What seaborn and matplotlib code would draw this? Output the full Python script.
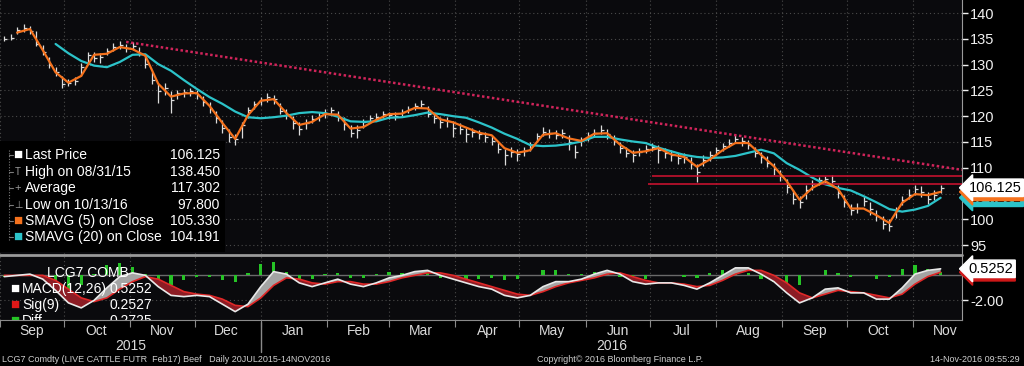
"""
LCG7 live cattle futures - Bloomberg style bar chart with SMAVG lines and MACD panel
"""

import numpy as np
import pandas as pd
import matplotlib
matplotlib.use("Agg")
import matplotlib.pyplot as plt
import matplotlib.dates as mdates
from matplotlib.patches import Rectangle
from matplotlib.lines import Line2D
import seaborn as sns

# price bars, read every third day from 03 Sep 2015 to 14 Nov 2016
bar_start = "2015-09-03"
bar_end = "2016-11-14"

close = [135.0, 135.2, 136.8, 137.0, 136.6, 134.0, 132.4, 130.0, 128.6, 126.2,
         126.4, 126.8, 129.6, 131.8, 131.2, 131.4, 132.6, 133.4, 133.8, 133.2,
         133.6, 132.2, 130.2, 127.0, 124.8, 125.4, 123.2, 124.4, 124.6, 124.8,
         124.2, 122.8, 121.6, 119.6, 117.8, 116.0, 115.6, 118.2, 121.2, 122.4,
         123.2, 123.8, 123.4, 121.0, 120.2, 118.6, 117.6, 118.6, 119.4, 120.0,
         120.6, 121.2, 119.8, 118.4, 116.8, 117.4, 118.8, 119.6, 119.8, 120.4,
         120.2, 120.0, 120.8, 121.4, 122.0, 122.4, 120.4, 119.6, 118.8, 119.0,
         117.8, 117.6, 116.6, 117.0, 116.6, 116.0, 115.2, 113.6, 112.4, 113.0,
         112.6, 113.2, 114.4, 116.2, 117.0, 116.8, 116.4, 116.8, 115.0, 113.0,
         115.4, 116.2, 116.8, 117.4, 116.6, 115.2, 113.8, 112.8, 112.4, 113.0,
         113.6, 114.0, 113.4, 112.8, 112.4, 111.8, 112.0, 110.8, 109.2, 111.6,
         112.4, 113.4, 114.2, 114.8, 115.6, 115.2, 114.4, 112.8, 112.0, 111.0,
         109.8, 108.4, 106.2, 104.0, 103.4, 105.6, 106.8, 107.6, 107.8, 107.4,
         105.2, 103.4, 101.8, 102.2, 103.6, 102.0, 100.6, 99.2, 98.8, 101.6,
         103.8, 104.8, 105.8, 105.4, 104.0, 104.8, 106.125]

high = [135.6, 136.0, 137.3, 137.8, 137.4, 136.5, 133.8, 131.5, 129.6, 127.8,
        127.2, 127.6, 130.4, 132.5, 132.4, 132.2, 133.2, 134.2, 134.5, 134.0,
        134.4, 133.4, 131.6, 128.6, 126.2, 126.4, 124.8, 125.0, 125.2, 125.4,
        125.0, 124.0, 122.8, 121.0, 119.2, 117.6, 116.6, 118.8, 121.8, 123.0,
        123.8, 124.4, 124.2, 122.6, 121.4, 120.0, 118.8, 119.4, 120.2, 120.8,
        121.4, 121.8, 121.0, 119.8, 118.2, 118.2, 119.4, 120.2, 120.6, 121.0,
        120.8, 120.8, 121.4, 122.0, 122.6, 123.1, 122.0, 120.6, 119.8, 119.8,
        119.0, 118.6, 117.8, 117.8, 117.4, 117.0, 116.2, 115.0, 113.6, 114.0,
        113.6, 114.0, 115.0, 116.8, 117.9, 117.6, 117.4, 117.6, 116.4, 114.4,
        116.0, 117.0, 117.6, 118.3, 117.6, 116.4, 115.0, 114.0, 113.4, 113.8,
        114.4, 114.8, 114.4, 113.8, 113.4, 112.8, 112.8, 112.0, 110.8, 112.4,
        113.2, 114.0, 114.8, 115.6, 116.4, 116.0, 115.4, 114.0, 113.0, 112.2,
        111.0, 109.6, 107.8, 105.6, 104.6, 106.6, 107.6, 108.2, 108.4, 108.6,
        106.6, 104.8, 103.0, 103.2, 104.6, 103.4, 101.8, 100.6, 100.0, 102.4,
        104.6, 105.8, 106.6, 106.4, 105.4, 105.6, 106.6]

low = [134.6, 134.8, 136.0, 136.4, 136.0, 133.6, 131.8, 129.4, 127.8, 125.5,
       125.8, 126.0, 127.8, 130.5, 130.6, 130.4, 131.8, 132.6, 133.0, 132.5,
       132.8, 131.6, 129.4, 126.2, 122.6, 124.2, 120.6, 123.4, 123.8, 124.0,
       123.4, 122.0, 120.6, 118.6, 116.8, 115.0, 114.4, 115.8, 119.6, 121.4,
       122.2, 122.8, 122.4, 120.4, 119.4, 117.6, 116.4, 117.6, 118.6, 119.0,
       119.6, 120.2, 119.0, 117.4, 116.0, 115.8, 117.8, 118.8, 119.0, 119.6,
       119.4, 119.2, 120.0, 120.6, 121.2, 121.6, 119.8, 118.6, 117.8, 118.0,
       116.0, 116.6, 115.0, 116.0, 115.6, 115.0, 114.4, 112.8, 110.6, 112.0,
       111.4, 112.2, 113.2, 115.0, 116.2, 115.8, 115.6, 115.8, 113.4, 111.9,
       114.2, 115.2, 116.0, 116.6, 115.6, 114.4, 112.8, 112.0, 111.1, 112.2,
       112.8, 113.2, 110.9, 111.8, 111.4, 110.8, 111.0, 109.8, 107.2, 110.4,
       111.4, 112.4, 113.2, 114.0, 114.8, 114.2, 113.6, 112.0, 111.0, 110.2,
       108.6, 107.4, 105.2, 103.0, 102.2, 104.0, 105.6, 106.6, 107.0, 106.4,
       104.2, 102.4, 100.9, 101.2, 102.6, 100.8, 99.6, 98.2, 97.8, 100.2,
       102.8, 104.0, 104.8, 104.4, 103.0, 103.8, 105.2]

# moving averages and MACD, read every sixth day over the same span
nan = np.nan
sma5 = [nan, 136.2, 136.9, 132.8, 128.5, 126.5, 127.8, 131.9, 132.1, 133.4,
        133.0, 131.7, 126.3, 123.8, 124.4, 124.5, 122.0, 118.7, 115.6, 120.2,
        123.0, 123.3, 120.6, 118.3, 118.9, 120.4, 120.3, 117.6, 117.9, 119.3,
        120.4, 120.5, 121.6, 121.5, 119.4, 118.8, 117.8, 116.8, 116.3, 113.8,
        112.9, 113.4, 116.4, 116.7, 115.7, 115.2, 116.6, 116.7, 114.5, 112.9,
        113.2, 113.8, 112.6, 112.1, 110.2, 111.6, 113.4, 114.8, 114.8, 112.5,
        110.3, 107.4, 103.8, 106.1, 107.4, 105.9, 102.1, 102.1, 100.8, 99.3,
        103.2, 104.9, 104.7, 105.33]

sma20 = [nan, nan, nan, nan, 134.0, 132.2, 130.7, 129.8, 129.5, 130.5,
         131.9, 132.0, 130.1, 128.8, 127.0, 125.3, 123.7, 122.4, 120.9, 119.8,
         119.6, 119.8, 120.1, 120.6, 120.8, 120.6, 119.9, 119.0, 118.9, 119.0,
         119.7, 119.8, 120.2, 120.7, 120.4, 120.0, 119.7, 118.8, 117.8, 116.6,
         115.6, 114.4, 114.2, 114.3, 114.6, 115.1, 116.0, 116.0, 115.5, 115.1,
         114.8, 113.9, 113.2, 112.5, 112.1, 111.9, 112.0, 112.3, 112.9, 113.5,
         112.8, 110.9, 109.6, 108.1, 106.8, 106.1, 105.6, 104.5, 103.3, 102.0,
         101.5, 101.9, 102.6, 104.19]

macd = [-0.1, 0.0, 0.1, -0.3, -1.2, -2.2, -2.6, -2.0, -1.0, -0.1,
        0.2, 0.0, -0.9, -1.6, -1.7, -1.6, -1.7, -2.3, -2.9, -2.3,
        -0.9, 0.3, 0.1, -0.6, -0.9, -0.6, -0.3, -0.7, -0.9, -0.6,
        -0.2, 0.0, 0.3, 0.4, 0.0, -0.3, -0.6, -0.9, -1.1, -1.6,
        -1.8, -1.6, -0.9, -0.5, -0.5, -0.3, 0.1, 0.4, 0.1, -0.5,
        -0.7, -0.6, -0.6, -0.8, -1.1, -0.6, 0.0, 0.6, 0.6, 0.1,
        -0.5, -1.4, -2.2, -1.8, -1.1, -1.0, -1.4, -1.4, -1.9, -1.9,
        -1.0, 0.1, 0.4, 0.5252]

signal = [0.0, 0.0, 0.0, 0.0, -0.4, -1.1, -1.8, -2.1, -1.8, -1.1,
          -0.5, -0.1, -0.3, -0.8, -1.3, -1.5, -1.6, -1.9, -2.4, -2.5,
          -1.8, -0.8, -0.2, -0.3, -0.6, -0.7, -0.5, -0.5, -0.7, -0.7,
          -0.5, -0.2, 0.0, 0.2, 0.2, 0.0, -0.3, -0.6, -0.9, -1.2,
          -1.5, -1.6, -1.3, -0.9, -0.6, -0.4, -0.2, 0.1, 0.2, -0.1,
          -0.4, -0.6, -0.6, -0.7, -0.9, -0.8, -0.4, 0.1, 0.4, 0.4,
          0.0, -0.6, -1.4, -1.8, -1.5, -1.2, -1.3, -1.4, -1.6, -1.8,
          -1.5, -0.7, -0.1, 0.2527]

# trend line and the two horizontal levels
trend_dates = ["2015-10-30", "2016-11-24"]
trend_vals = [134.4, 109.6]
level_starts = ["2016-07-02", "2016-06-30"]
levels = [108.5, 106.9]

legend_marks = ["\u25a0", "T", "+", "\u22a5", "\u25a0", "\u25a0"]
legend_labels = ["Last Price", "High on 08/31/15", "Average", "Low on 10/13/16",
                 "SMAVG (5) on Close", "SMAVG (20) on Close"]
legend_values = ["106.125", "138.450", "117.302", "97.800", "105.330", "104.191"]

ORANGE = "#f5721d"
CYAN = "#2cc3c9"
GREEN = "#26c426"
RED = "#e02828"
BAR = "#dcdcdc"
GRID = "#4a4a4a"


def fx(x):
    return x / 1024


def fy(y):
    return 1 - y / 366


def main():
    sns.set_style("dark")
    plt.rcParams["font.family"] = ["Liberation Sans", "DejaVu Sans"]

    bar_dates = pd.date_range(bar_start, bar_end, freq="3D")
    line_dates = pd.date_range(bar_start, bar_end, freq="6D")
    bx = mdates.date2num(bar_dates)
    lx = mdates.date2num(line_dates)
    x0 = mdates.date2num(pd.Timestamp("2015-09-01"))
    x1 = mdates.date2num(pd.Timestamp("2016-11-24"))

    fig = plt.figure(figsize=(10.24, 3.66), dpi=100)
    fig.patch.set_facecolor("black")
    ax = fig.add_axes([0, fy(254), fx(962), 254 / 366])
    ax2 = fig.add_axes([0, fy(320), fx(962), 64 / 366])

    for a in (ax, ax2):
        a.set_facecolor("#0a0a0d")
        a.set_xlim(x0, x1)
        for s in ("left", "top"):
            a.spines[s].set_visible(False)
        a.spines["right"].set_color("#9a9a9a")
        a.spines["bottom"].set_color("#8a8a8a")
        a.xaxis.set_major_locator(mdates.MonthLocator())
        a.grid(True, axis="x", which="major", color=GRID, linestyle=(0, (1, 2.5)), lw=0.8)
        a.grid(False, axis="y")
        a.yaxis.tick_right()
    ax.spines["bottom"].set_visible(False)

    # ---- price panel ----
    ax.set_ylim(93.29, 142.52)
    ax.set_yticks(range(95, 141, 5))
    for v in range(95, 141, 5):
        ax.axhline(v, color=GRID, linestyle=(0, (1, 2.5)), lw=0.8, zorder=0)
    ax.tick_params(axis="y", right=True, colors="#f0f0f0", labelsize=10.5,
                   length=4, width=1, direction="out", pad=2)
    ax.tick_params(axis="x", which="both", bottom=False, labelbottom=False)

    ax.vlines(bx, low, high, color=BAR, lw=0.9, zorder=3)
    ax.hlines(close, bx, bx + 1.4, color=BAR, lw=0.9, zorder=3)

    sns.lineplot(x=lx, y=sma20, ax=ax, color=CYAN, lw=1.6, zorder=4)
    sns.lineplot(x=lx, y=sma5, ax=ax, color=ORANGE, lw=1.6, zorder=5)

    ax.plot(mdates.date2num(pd.to_datetime(trend_dates)), trend_vals,
            color="#d0245a", lw=1.8, linestyle=(0, (1, 1)), zorder=4)
    for start, lev in zip(level_starts, levels):
        ax.hlines(lev, mdates.date2num(pd.Timestamp(start)), x1, color="#c4122e", lw=1.2, zorder=4)

    # price tags at the right edge
    ytr = ax.get_yaxis_transform()
    tag_style = dict(transform=ytr, ha="left", va="center", fontsize=10.5, clip_on=False)
    ax.text(1.007, 104.191, "104.191", color="black", zorder=10,
            bbox=dict(boxstyle="larrow,pad=0.12", fc=CYAN, ec=CYAN), **tag_style)
    ax.text(1.007, 105.33, "105.330", color="black", zorder=11,
            bbox=dict(boxstyle="larrow,pad=0.12", fc=ORANGE, ec=ORANGE), **tag_style)
    ax.text(1.007, 106.125, "106.125", color="black", zorder=12,
            bbox=dict(boxstyle="larrow,pad=0.12", fc="white", ec="white"), **tag_style)

    # legend box
    ax.add_patch(Rectangle((0, 2 / 254), 225 / 962, 111 / 254, transform=ax.transAxes,
                           fc="black", ec="none", zorder=8))
    rows_y = [155, 172, 188, 205, 221, 237]
    mark_colors = ["white", "#9a9a9a", "#9a9a9a", "#9a9a9a", ORANGE, CYAN]
    mark_sizes = [11, 7, 8, 7, 11, 11]
    fig.add_artist(Line2D([fx(9), fx(9)], [fy(150), fy(240)], color="#7a7a7a",
                          lw=0.8, linestyle=(0, (1, 1.5))))
    for y, mk, mc, ms, lab, val in zip(rows_y, legend_marks, mark_colors, mark_sizes,
                                       legend_labels, legend_values):
        fig.add_artist(Line2D([fx(9), fx(13)], [fy(y), fy(y)], color="#7a7a7a", lw=0.8))
        fig.text(fx(18), fy(y), mk, color=mc, fontsize=ms, ha="center", va="center")
        fig.text(fx(25), fy(y), lab, color="white", fontsize=10, va="center")
        fig.text(fx(220), fy(y), val, color="white", fontsize=10, va="center", ha="right")

    # ---- MACD panel ----
    m = np.array(macd)
    s = np.array(signal)
    diff = m - s
    ax2.set_ylim(-3.57, 1.55)
    ax2.axhline(0, color="#6a6a6a", lw=1.0, zorder=1)
    ax2.axhline(-2, color=GRID, lw=0.8, linestyle=(0, (1, 2.5)), zorder=1)
    ax2.bar(lx, diff, width=1.5, color=GREEN, edgecolor="none", lw=0, zorder=2)
    ax2.fill_between(lx, m, s, where=m >= s, interpolate=True, color="#a4a4a4", lw=0, zorder=3)
    ax2.fill_between(lx, m, s, where=m < s, interpolate=True, color="#8c1c24", lw=0, zorder=3)
    sns.lineplot(x=lx, y=signal, ax=ax2, color=RED, lw=1.2, zorder=4)
    sns.lineplot(x=lx, y=macd, ax=ax2, color="#e8e8e8", lw=1.2, zorder=5)

    ax2.set_yticks([-2])
    ax2.set_yticklabels(["-2.00"])
    ax2.tick_params(axis="y", right=True, colors="#f0f0f0", labelsize=10.5,
                    length=4, width=1, direction="out", pad=2)
    ytr2 = ax2.get_yaxis_transform()
    ax2.text(1.007, 0.2527, "0.2527", color="black", transform=ytr2, ha="left", va="center",
             fontsize=10.5, clip_on=False, zorder=10,
             bbox=dict(boxstyle="larrow,pad=0.12", fc="#d01818", ec="#d01818"))
    ax2.text(1.007, 0.5252, "0.5252", color="black", transform=ytr2, ha="left", va="center",
             fontsize=10.5, clip_on=False, zorder=11,
             bbox=dict(boxstyle="larrow,pad=0.12", fc="white", ec="white"))

    ax2.xaxis.set_minor_locator(mdates.MonthLocator(bymonthday=16))
    ax2.xaxis.set_minor_formatter(mdates.DateFormatter("%b"))
    ax2.xaxis.set_major_formatter(plt.NullFormatter())
    ax2.tick_params(axis="x", which="major", bottom=True, length=5, color="#8a8a8a", direction="out")
    ax2.tick_params(axis="x", which="minor", bottom=True, length=0, labelsize=10,
                    labelcolor="#dadada", pad=3)
    ax2.set_xlabel("")
    ax2.set_ylabel("")
    ax.set_xlabel("")
    ax.set_ylabel("")

    # MACD legend, clipped by the panel like the original
    ftr = fig.transFigure
    ax2.text(fx(47), fy(273), "LCG7 COMB", color="white", fontsize=10, va="center",
             transform=ftr, clip_on=True, zorder=8)
    macd_rows = [(289, "white", "MACD(12,26)", "0.5252"),
                 (305, "#e01818", "Sig(9)", "0.2527"),
                 (321, GREEN, "Diff", "0.2725")]
    for y, c, lab, val in macd_rows:
        ax2.text(fx(15), fy(y), "\u25a0", color=c, fontsize=11, ha="center", va="center",
                 transform=ftr, clip_on=True, zorder=8)
        ax2.text(fx(22), fy(y), lab, color="white", fontsize=10, va="center",
                 transform=ftr, clip_on=True, zorder=8)
        ax2.text(fx(110), fy(y), val, color="white", fontsize=10, va="center",
                 transform=ftr, clip_on=True, zorder=8)

    # panel divider, year labels, footer
    fig.add_artist(Line2D([0, fx(962)], [fy(255), fy(255)], color="#9a9a9a", lw=2))
    fig.add_artist(Line2D([fx(261), fx(261)], [fy(322), fy(352)], color="#8a8a8a", lw=1))
    fig.text(fx(131), fy(346), "2015", color="#dadada", fontsize=10, ha="center", va="center")
    fig.text(fx(612), fy(346), "2016", color="#dadada", fontsize=10, ha="center", va="center")
    fig.text(fx(2), fy(360), "LCG7 Comdty (LIVE CATTLE FUTR  Feb17) Beef   Daily 20JUL2015-14NOV2016",
             color="#cfcfcf", fontsize=6.5, va="center")
    fig.text(fx(537), fy(360), "Copyright\u00a9 2016 Bloomberg Finance L.P.",
             color="#cfcfcf", fontsize=6.5, va="center")
    fig.text(fx(1020), fy(360), "14-Nov-2016 09:55:29", color="#cfcfcf", fontsize=6.5,
             va="center", ha="right")

    fig.savefig("out.png", dpi=100, facecolor="black")


if __name__ == "__main__":
    main()
